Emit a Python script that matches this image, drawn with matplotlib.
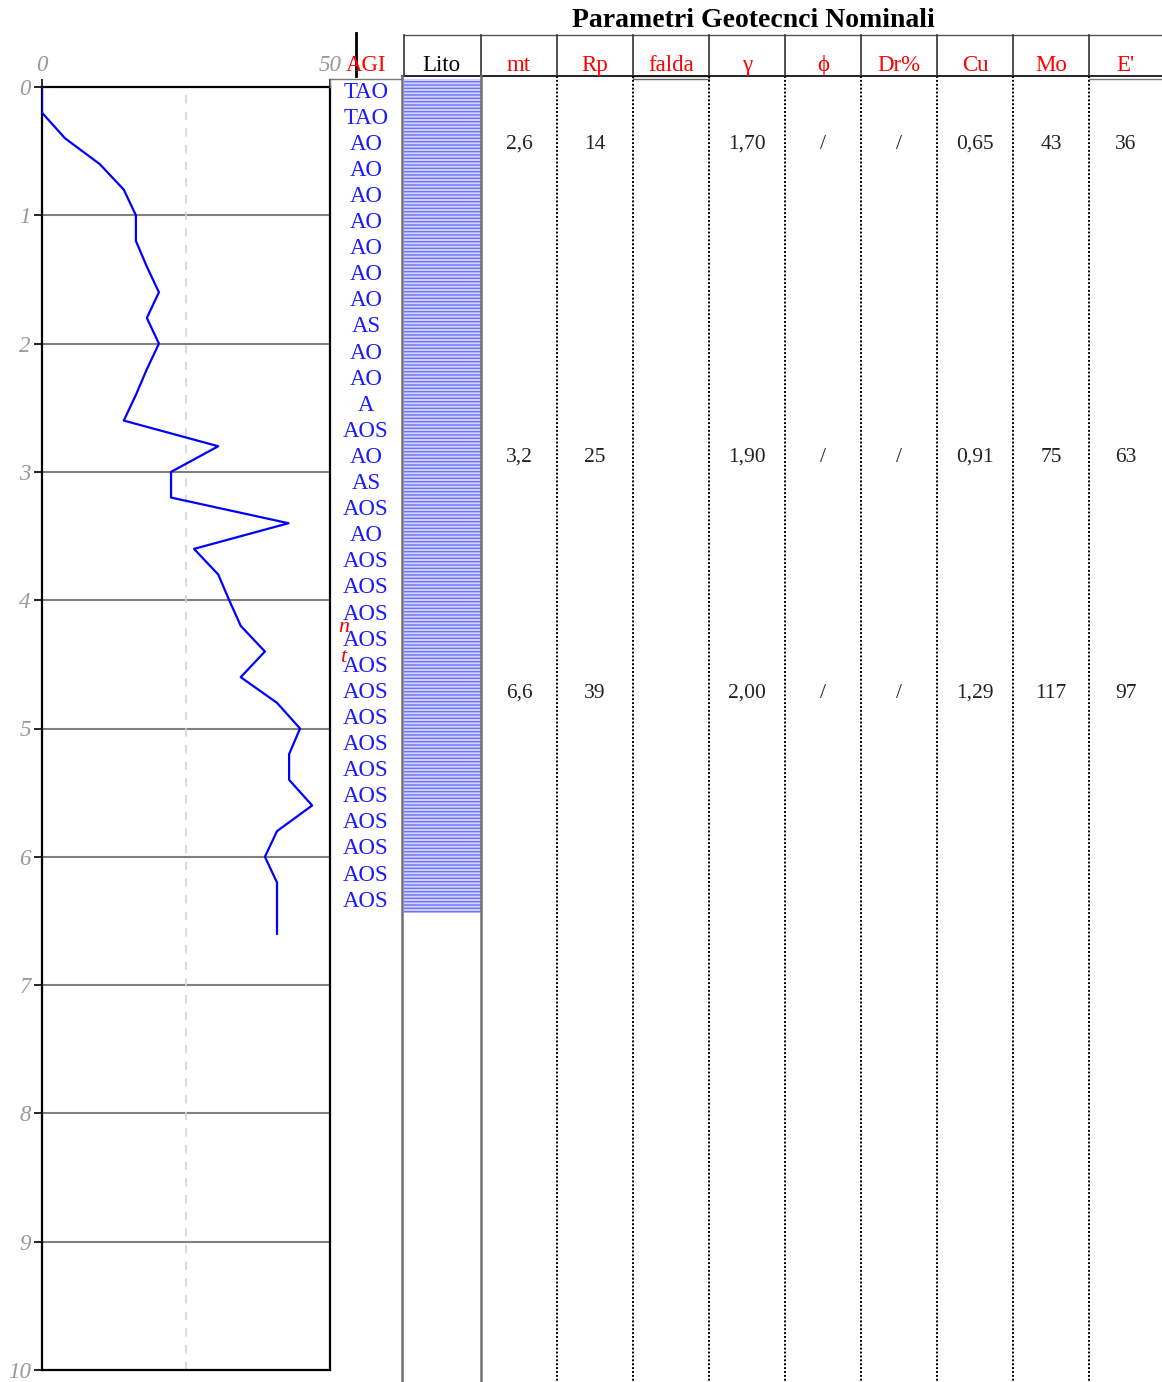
import matplotlib.pyplot as plt
from matplotlib.patches import Rectangle

# penetration profile (depth [m], value)
depth = [0.0, 0.2, 0.4, 0.6, 0.8, 1.0, 1.2, 1.4, 1.6, 1.8, 2.0, 2.2, 2.4, 2.6, 2.8,
         3.0, 3.2, 3.4, 3.6, 3.8, 4.0, 4.2, 4.4, 4.6, 4.8, 5.0, 5.2, 5.4, 5.6, 5.8,
         6.0, 6.2, 6.4, 6.6]
penetr = [0, 0, 4, 10, 14.2, 16.3, 16.3, 18.2, 20.3, 18.2, 20.3, 18.2, 16.3, 14.2, 30.6,
          22.4, 22.4, 42.8, 26.4, 30.6, 32.5, 34.5, 38.7, 34.5, 40.8, 44.8, 42.9, 42.9, 46.9, 40.8,
          38.7, 40.8, 40.8, 40.8]

agi = ['TAO', 'TAO', 'AO', 'AO', 'AO', 'AO', 'AO', 'AO', 'AO', 'AS', 'AO', 'AO', 'A', 'AOS',
       'AO', 'AS', 'AOS', 'AO', 'AOS', 'AOS', 'AOS', 'AOS', 'AOS', 'AOS', 'AOS', 'AOS', 'AOS',
       'AOS', 'AOS', 'AOS', 'AOS', 'AOS']

# nominal geotechnical parameters per layer
headers = ['Lito', 'mt', 'Rp', 'falda', 'γ', 'ϕ', 'Dr%', 'Cu', 'Mo', "E'"]
layer_depth = [0.42, 2.86, 4.70]
mt = ['2,6', '3,2', '6,6']
rp = ['14', '25', '39']
falda = ['', '', '']
gamma = ['1,70', '1,90', '2,00']
phi = ['/', '/', '/']
dr = ['/', '/', '/']
cu = ['0,65', '0,91', '1,29']
mo = ['43', '75', '117']
e_mod = ['36', '63', '97']
lito_top, lito_bot = -0.06, 6.44

plt.rcParams['font.family'] = ['Liberation Serif', 'DejaVu Serif']
plt.rcParams['hatch.linewidth'] = 1.0

W, H = 1162, 1382
fig = plt.figure(figsize=(W / 100, H / 100), dpi=100)
y0, y10 = 87, 1370
bottom = (H - y10) / H
height = (y10 - y0) / H

# --- penetration plot ---
ax = fig.add_axes([42 / W, bottom, 288 / W, height])
ax.set_xlim(0, 50)
ax.set_ylim(10, 0)
for d in range(1, 10):
    ax.axhline(d, color='#808080', lw=1.5, zorder=1)
ax.axvline(25, color='#d4d4d4', lw=1.2, ls=(0, (5, 5)), zorder=1)
ax.plot(penetr, depth, color='#0000ff', lw=1.6, zorder=3)
ax.xaxis.tick_top()
ax.set_xticks([0, 50])
ax.set_yticks(range(0, 11))
ax.tick_params(axis='x', length=6, width=1.2, pad=2, labelsize=16.5, labelcolor='#999999')
ax.tick_params(axis='y', length=6, width=1.2, pad=2, labelsize=16.5, labelcolor='#999999')
for lab in ax.get_xticklabels() + ax.get_yticklabels():
    lab.set_fontstyle('italic')
for s in ax.spines.values():
    s.set_linewidth(1.6)

# --- table ---
tb = fig.add_axes([330 / W, bottom, 832 / W, height])
tb.set_xlim(330, W)
tb.set_ylim(10, 0)
tb.axis('off')

edges = [330, 402, 481, 557, 633, 709, 785, 861, 937, 1013, 1089, 1162]
mids = [(a + b) / 2 for a, b in zip(edges[:-1], edges[1:])]
d_top, d_hb, d_hb2, d_bot = -0.405, -0.086, -0.062, 10.1
d_head, d_title = -0.165, -0.52
agi_step = 0.2034

tb.text(753, d_title, 'Parametri Geotecnci Nominali', ha='center', va='center',
        fontsize=20, fontweight='bold', clip_on=False)
tb.plot([404, W], [d_top, d_top], color='#555555', lw=1, clip_on=False)
tb.plot([402, W], [d_hb, d_hb], color='black', lw=1.2, clip_on=False)
tb.plot([330, 402], [d_hb2, d_hb2], color='#777777', lw=1, clip_on=False)
tb.plot([330, 330], [d_hb2, 0], color='#777777', lw=1, clip_on=False)
tb.plot([356, 356], [-0.421, d_hb], color='black', lw=2, clip_on=False)
for x in edges[1:-1]:
    tb.plot([x + (2 if x == 402 else 0)] * 2, [d_top, d_hb], color='#333333', lw=1.2, clip_on=False)
for x in edges[1:3]:
    tb.plot([x, x], [d_hb, d_bot], color='#707070', lw=1.8, clip_on=False)
for x in edges[3:-1]:
    tb.plot([x, x], [d_hb, d_bot], color='black', lw=1.4, ls=(0, (1, 1)), clip_on=False)
tb.add_patch(Rectangle((633, d_hb), 76, d_hb2 - d_hb, fill=False, ec='#666666', lw=1, clip_on=False))
tb.plot([1089, W], [d_hb2, d_hb2], color='#777777', lw=1, clip_on=False)

tb.text(mids[0], d_head, 'AGI', ha='center', va='center', fontsize=16.5, color='red', clip_on=False)
for i, h in enumerate(headers):
    tb.text(mids[i + 1], d_head, h, ha='center', va='center', fontsize=16.5,
            color='black' if h == 'Lito' else 'red', clip_on=False)

# lithology column
tb.add_patch(Rectangle((404, lito_top), 77, lito_bot - lito_top, facecolor='#cfd2ff',
                       edgecolor='#6f6fff', hatch='-----', lw=0, clip_on=False))

# AGI labels
for i, lab in enumerate(agi):
    tb.text(mids[0], 0.04 + i * agi_step, lab, ha='center', va='center', fontsize=16.5,
            color='#1a1aff', clip_on=False)
tb.text(344, 4.21, 'n', ha='center', va='center', fontsize=16, color='red', style='italic')
tb.text(343, 4.45, 't', ha='center', va='center', fontsize=16, color='red', style='italic')

cols = [mt, rp, falda, gamma, phi, dr, cu, mo, e_mod]
for j, vals in enumerate(cols):
    for d, v in zip(layer_depth, vals):
        tb.text(mids[j + 2], d + 0.025, v, ha='center', va='center', fontsize=15.5, color='#222222')

fig.savefig('out.png', dpi=100)
